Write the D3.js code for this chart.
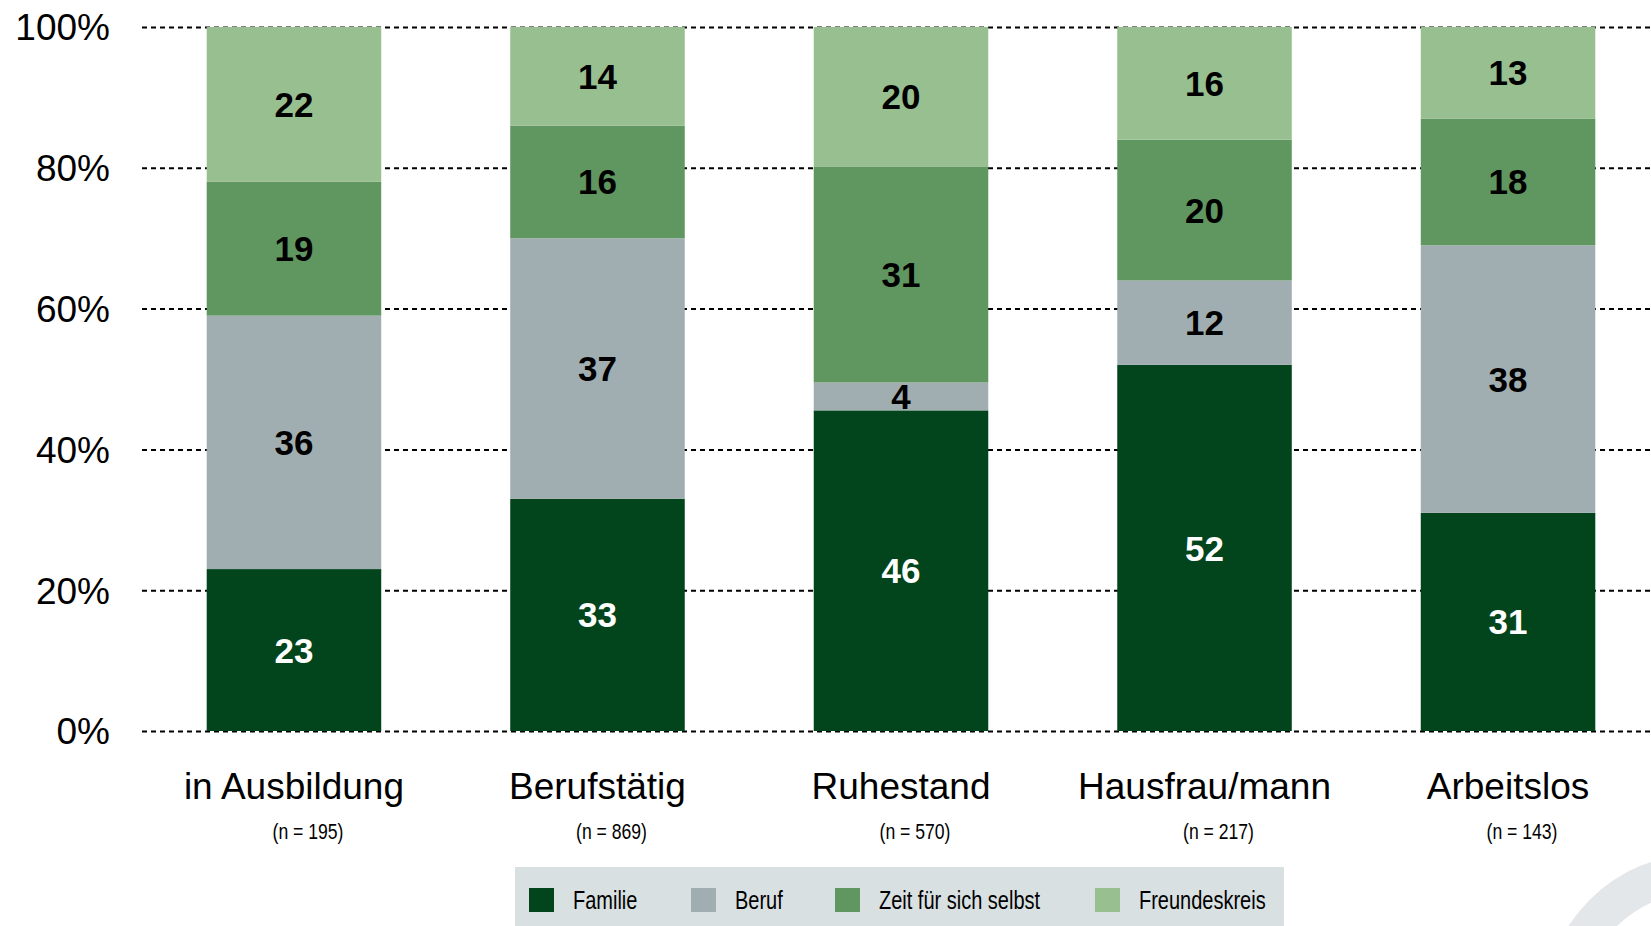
<!DOCTYPE html>
<html>
<head>
<meta charset="utf-8">
<script src="https://cdn.jsdelivr.net/npm/d3@7"></script>
<style>
  html, body { margin: 0; padding: 0; background: #fff; }
  svg { display: block; }
</style>
</head>
<body>
<svg id="chart" width="1651" height="926"></svg>
<script>
// categories and series values (percent)
const categories = ['in Ausbildung', 'Berufstätig', 'Ruhestand', 'Hausfrau/mann', 'Arbeitslos'];
const sampleSizes = ['(n = 195)', '(n = 869)', '(n = 570)', '(n = 217)', '(n = 143)'];
const seriesNames = ['Familie', 'Beruf', 'Zeit für sich selbst', 'Freundeskreis'];
const familie = [23, 33, 46, 52, 31];
const beruf = [36, 37, 4, 12, 38];
const zeit = [19, 16, 31, 20, 18];
const freundeskreis = [22, 14, 20, 16, 13];
const yTicks = [0, 0.2, 0.4, 0.6, 0.8, 1];

const colors = ['#02441c', '#a1aeb1', '#60965f', '#98bf90'];
const labelColors = ['#fff', '#000', '#000', '#000'];

const svg = d3.select('#chart');
const chartWidth = 1651;
const plotTop = 27, plotBottom = 731;
const font = '"Liberation Sans", Arial, sans-serif';

// build table for the stack
const seriesValues = [familie, beruf, zeit, freundeskreis];
const rows = categories.map((c, i) => {
    const r = { category: c };
    seriesNames.forEach((s, j) => { r[s] = seriesValues[j][i]; });
    return r;
});

// columns are shown as shares of 100% (Ruhestand adds up to 101)
const stacked = d3.stack()
    .keys(seriesNames)
    .offset(d3.stackOffsetExpand)(rows);

const x = d3.scaleBand()
    .domain(categories)
    .range([146, 1656])
    .paddingInner(0.425)
    .paddingOuter(0.2);

const y = d3.scaleLinear().domain([0, 1]).range([plotBottom, plotTop]);

// background ring (logo, bottom right)
svg.append('path')
    .attr('transform', 'translate(1700,1010)')
    .attr('d', d3.arc()({ innerRadius: 118, outerRadius: 156, startAngle: 0, endAngle: 2 * Math.PI }))
    .attr('fill', '#e4e7e9');

// dashed grid lines
const grid = svg.append('g')
    .attr('transform', 'translate(142,0)')
    .call(d3.axisRight(y)
        .tickValues(yTicks)
        .tickSize(chartWidth - 142)
        .tickFormat(''));
grid.select('.domain').remove();
grid.selectAll('line')
    .attr('stroke', '#000')
    .attr('stroke-width', 2)
    .attr('stroke-dasharray', '5,4');

// y labels
svg.append('g')
    .selectAll('text')
    .data(yTicks)
    .join('text')
    .attr('x', 110)
    .attr('y', d => y(d))
    .attr('dy', '0.36em')
    .attr('text-anchor', 'end')
    .attr('font-family', font)
    .attr('font-size', 37)
    .attr('fill', '#000')
    .text(d => d3.format('.0%')(d));

// bars
const layers = svg.append('g')
    .selectAll('g')
    .data(stacked)
    .join('g')
    .attr('fill', (d, i) => colors[i]);

layers.selectAll('rect')
    .data(d => d)
    .join('rect')
    .attr('x', d => x(d.data.category))
    .attr('y', d => y(d[1]))
    .attr('width', x.bandwidth())
    .attr('height', d => y(d[0]) - y(d[1]));

// value labels
stacked.forEach((layer, i) => {
    svg.append('g')
        .selectAll('text')
        .data(layer)
        .join('text')
        .attr('x', d => x(d.data.category) + x.bandwidth() / 2)
        .attr('y', d => (y(d[0]) + y(d[1])) / 2)
        .attr('dy', '0.36em')
        .attr('text-anchor', 'middle')
        .attr('font-family', font)
        .attr('font-weight', 'bold')
        .attr('font-size', 35)
        .attr('fill', labelColors[i])
        .text(d => d.data[layer.key]);
});

// category labels
svg.append('g')
    .selectAll('text')
    .data(categories)
    .join('text')
    .attr('x', d => x(d) + x.bandwidth() / 2)
    .attr('y', 799)
    .attr('text-anchor', 'middle')
    .attr('font-family', font)
    .attr('font-size', 37)
    .attr('fill', '#000')
    .text(d => d);

// sample sizes, narrow type (squeezed horizontally), sitting a bit right of centre
svg.append('g')
    .selectAll('text')
    .data(sampleSizes)
    .join('text')
    .attr('transform', (d, i) => `translate(${x(categories[i]) + x.bandwidth() / 2 + 14},839) scale(0.8,1)`)
    .attr('text-anchor', 'middle')
    .attr('font-family', font)
    .attr('font-size', 22)
    .attr('fill', '#000')
    .text(d => d);

// legend
const legend = svg.append('g');
legend.append('rect')
    .attr('x', 515)
    .attr('y', 867)
    .attr('width', 769)
    .attr('height', 70)
    .attr('fill', '#d8e0e1');

const legendX = [529, 691, 835, 1095];
const items = legend.selectAll('g.item')
    .data(seriesNames)
    .join('g')
    .attr('class', 'item')
    .attr('transform', (d, i) => `translate(${legendX[i]},888)`);

items.append('rect')
    .attr('width', 25)
    .attr('height', 24)
    .attr('fill', (d, i) => colors[i]);

items.append('text')
    .attr('transform', 'translate(44,21) scale(0.8,1)')
    .attr('font-family', font)
    .attr('font-size', 25)
    .attr('fill', '#000')
    .text(d => d);
</script>
</body>
</html>
